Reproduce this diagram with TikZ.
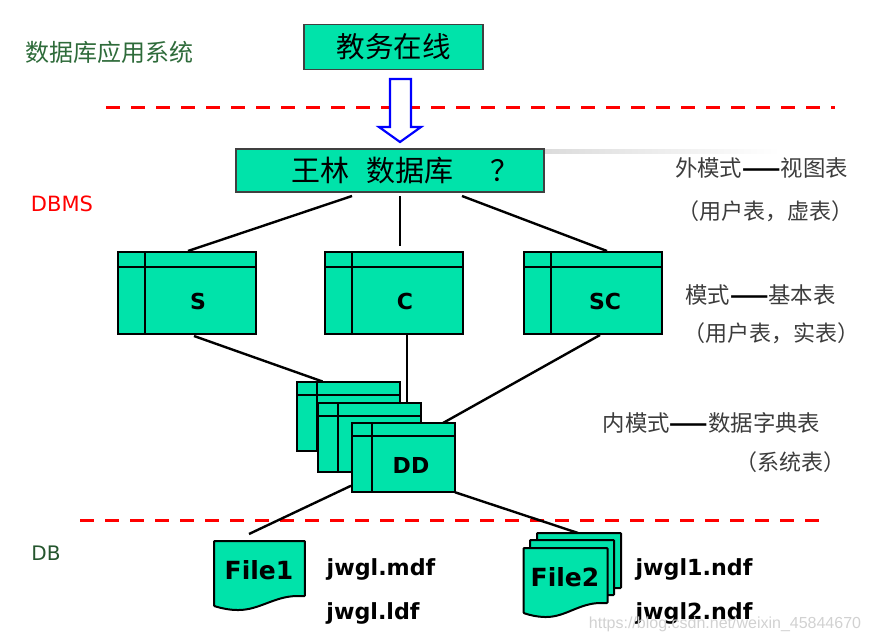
\documentclass[tikz,border=0pt]{standalone}
\usepackage{fontspec}
\setmainfont{Noto Sans CJK SC}
\newfontfamily\latinfont{DejaVu Sans}
\newfontfamily\markfont{Liberation Sans}
\usetikzlibrary{positioning,calc}
\definecolor{boxgreen}{RGB}{0,227,170}
\definecolor{layergreen}{RGB}{46,107,58}
\definecolor{notegray}{RGB}{60,60,60}
\newcommand{\notedash}{{\color{black}\bfseries ——}}
\tikzset{
  tablelines/.style 2 args={path picture={
      \draw[line width=2.4pt] ([xshift=#1pt]path picture bounding box.north west) -- ([xshift=#1pt]path picture bounding box.south west);
      \draw[line width=2.4pt] ([yshift=-#2pt]path picture bounding box.north west) -- ([yshift=-#2pt]path picture bounding box.north east);
  }},
  titlebox/.style={rectangle,draw=black!75,fill=boxgreen,line width=1.2pt,inner sep=0pt,outer sep=0pt},
  bigtable/.style={rectangle,draw,fill=boxgreen,line width=2.4pt,inner sep=0pt,outer sep=0pt,minimum width=138pt,minimum height=82pt,tablelines={27}{15}},
  smalltable/.style={rectangle,draw,fill=boxgreen,line width=2.2pt,inner sep=0pt,outer sep=0pt,minimum width=103pt,minimum height=69pt,tablelines={20}{13}},
  tablename/.style={font=\latinfont\bfseries\fontsize{22}{24}\selectfont},
  filename/.style={font=\latinfont\bfseries\fontsize{22.2}{24}\selectfont},
  note/.style={text=notegray,font=\fontsize{22.4}{24}\selectfont,inner sep=0pt},
  subnote/.style={text=notegray,font=\fontsize{22}{24}\selectfont,inner sep=0pt},
  link/.style={line width=2.4pt},
  cutline/.style={red,line width=3pt,dash pattern=on 14pt off 11pt},
  filesheet/.pic={
    \draw[fill=boxgreen,line width=2pt,rounded corners=0.8pt] (0,0) -- (84,0) -- (84,55) -- (78,55)
      .. controls (56,55) and (42,69) .. (22,69) .. controls (14,69) and (6,67) .. (0,65) -- cycle;
  }
}
\begin{document}
\begin{tikzpicture}[x=1pt,y=-1pt]
    \useasboundingbox (0,0) rectangle (870,642);
    % layers
    \node at (109, 52) [text=layergreen,font=\fontsize{24}{26}\selectfont,inner sep=0pt] (appname) {数据库应用系统};
    \node at (62, 204) [text=red,font=\latinfont\fontsize{21}{24}\selectfont,inner sep=0pt] (dbmsname) {DBMS};
    \node at (46, 553) [text=layergreen!80!black,font=\latinfont\fontsize{20}{24}\selectfont,inner sep=0pt] (dbname) {DB};
    \coordinate (cut1a) at (106, 107);
    \coordinate (cut1b) at (835, 107);
    \coordinate (cut2a) at (80, 520);
    \coordinate (cut2b) at (820, 520);
    \draw[cutline] (cut1a) -- (cut1b);
    \draw[cutline] (cut2a) -- (cut2b);

    \shade[left color=black!14,right color=white] (544, 149.5) rectangle (780, 153);
    \node at (393.5, 47) [titlebox,minimum width=179pt,minimum height=45pt,font=\fontsize{28.5}{30}\selectfont] (online) {\raisebox{-3pt}{教务在线}};
    \node at (390, 170.5) [titlebox,minimum width=308pt,minimum height=43pt,font=\fontsize{29}{31}\selectfont] (wanglin) {\raisebox{-2pt}{\hspace*{31pt}王林\hspace{18pt}数据库\hspace{37pt}？}};
    \draw[blue,fill=white,line width=2.2pt,line join=miter] (390, 79) -- (411, 79) -- (411, 127) -- (421, 127) -- (400, 142) -- (379, 127) -- (390, 127) -- cycle;

    % tables
    \node at (187, 293) [bigtable] (S) {};
    \node at (394, 293) [bigtable] (C) {};
    \node at (593, 293) [bigtable] (SC) {};
    \node at (198, 301) [tablename] (Sname) {S};
    \node at (405, 301) [tablename] (Cname) {C};
    \node at (605, 301) [tablename] (SCname) {SC};

    \draw[link] ([shift={(-38,4)}]wanglin.south) -- ([shift={(1,-1)}]S.north);
    \draw[link] ([shift={(10,4)}]wanglin.south) -- ([shift={(6,-6)}]C.north);
    \draw[link] ([shift={(72,4)}]wanglin.south) -- ([shift={(14,-1)}]SC.north);

    \coordinate (dict1) at (348.5, 416.5);
    \coordinate (dict2) at (369.5, 437.5);
    \draw[link] ([shift={(7,2)}]S.south) -- ([shift={(-26,-35)}]dict1);
    \draw[link] ([shift={(13,1)}]C.south) -- ([shift={(37.5,-34)}]dict2);
    \draw[link] ([shift={(7,1)}]SC.south) -- (443, 423);
    \node at (dict1) [smalltable] (DD1) {};
    \node at (dict2) [smalltable] (DD2) {};
    \node at (403.5, 457.75) [smalltable] (DD3) {};
    \node at (411, 465) [tablename] (DDname) {DD};

    % files
    \coordinate (file1top) at (249, 534);
    \coordinate (file2top) at (578, 533);
    \draw[link] ([shift={(-1,28)}]DD3.west) -- (file1top);
    \draw[link] (DD3.south east) -- (file2top);
    \pic[xscale=1.083] at (214, 541) {filesheet};
    \pic at (537, 533) {filesheet};
    \pic at (530, 540) {filesheet};
    \pic at (523.5, 548) {filesheet};
    \node at (259, 570) [font=\latinfont\bfseries\fontsize{25}{28}\selectfont] (File1) {File1};
    \node at (565, 577) [font=\latinfont\bfseries\fontsize{25}{28}\selectfont] (File2) {File2};
    \node at (381, 569) [filename] (mdf) {jwgl.mdf};
    \node at (373, 613) [filename] (ldf) {jwgl.ldf};
    \node at (694, 569) [filename] (ndf1) {jwgl1.ndf};
    \node at (694, 613) [filename] (ndf2) {jwgl2.ndf};

    % right side
    \node at (761.5, 168) [note] (ext1) {外模式\notedash 视图表};
    \node at (765, 211) [subnote] (ext2) {（用户表，虚表）};
    \node at (760.5, 295) [note] (base1) {模式\notedash 基本表};
    \node at (771, 333) [subnote] (base2) {（用户表，实表）};
    \node at (711.5, 423) [note] (int1) {内模式\notedash 数据字典表};
    \node at (790, 462) [subnote] (int2) {（系统表）};

    \node at (725, 624) [text=black!18,font=\markfont\fontsize{16}{20}\selectfont,inner sep=0pt] (mark) {https://blog.csdn.net/weixin\_45844670};
\end{tikzpicture}
\end{document}
